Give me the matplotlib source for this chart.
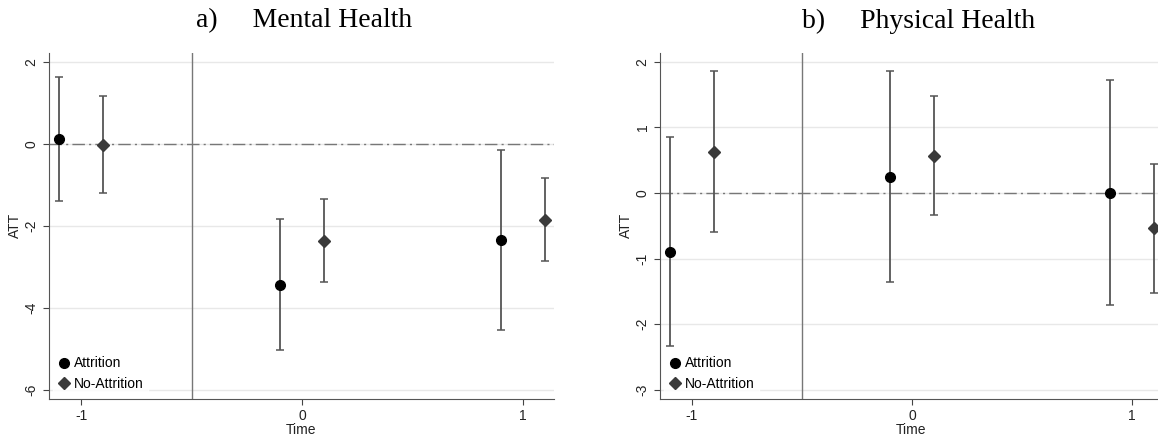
import matplotlib
matplotlib.use("Agg")
import matplotlib.pyplot as plt

# time periods (relative to treatment)
times = [-1, 0, 1]
offset = 0.1

# a) Mental Health
mental_att = [0.11, -3.43, -2.34]
mental_att_lo = [-1.40, -5.03, -4.54]
mental_att_hi = [1.63, -1.84, -0.15]
mental_noatt = [-0.03, -2.37, -1.85]
mental_noatt_lo = [-1.21, -3.37, -2.85]
mental_noatt_hi = [1.16, -1.35, -0.84]

# b) Physical Health
phys_att = [-0.90, 0.25, 0.00]
phys_att_lo = [-2.33, -1.36, -1.71]
phys_att_hi = [0.86, 1.86, 1.72]
phys_noatt = [0.63, 0.57, -0.54]
phys_noatt_lo = [-0.59, -0.33, -1.53]
phys_noatt_hi = [1.86, 1.48, 0.45]

plt.rcParams['font.family'] = ['Liberation Sans', 'DejaVu Sans']

W, H = 1158, 440
fig = plt.figure(figsize=(W / 100, H / 100), dpi=100)


def panel(rect, title, title_x, att, att_lo, att_hi, na, na_lo, na_hi, yticks, ylim):
    ax = fig.add_axes(rect)
    xa = [t - offset for t in times]
    xn = [t + offset for t in times]
    ecol = '#555555'
    for y in yticks:
        ax.axhline(y, color='#e8e8e8', lw=1, zorder=0)
    ax.axhline(0, color='#777777', lw=1, ls=(0, (9, 3, 1.5, 3)), zorder=1)
    ax.axvline(-0.5, color='#777777', lw=1, zorder=1)
    ax.errorbar(xa, att, yerr=[[a - l for a, l in zip(att, att_lo)], [h - a for a, h in zip(att, att_hi)]],
                fmt='o', color='black', ecolor=ecol, elinewidth=1.3, capsize=3, capthick=1.1,
                markersize=7, label='Attrition', zorder=3)
    ax.errorbar(xn, na, yerr=[[a - l for a, l in zip(na, na_lo)], [h - a for a, h in zip(na, na_hi)]],
                fmt='D', color='#3a3a3a', ecolor=ecol, elinewidth=1.3, capsize=3, capthick=1.1,
                markersize=6.5, label='No-Attrition', zorder=3)
    ax.set_xlim(-1.145, 1.14)
    ax.set_ylim(*ylim)
    ax.set_xticks(times)
    ax.set_xticklabels([str(t) for t in times])
    ax.set_yticks(yticks)
    ax.set_yticklabels([str(y) for y in yticks], rotation=90, va='center')
    for s in ['top', 'right']:
        ax.spines[s].set_visible(False)
    for s in ['left', 'bottom']:
        ax.spines[s].set_color('#555555')
    ax.tick_params(colors='#444444', labelcolor='#222222', labelsize=10, length=4)
    ax.set_xlabel('Time', fontsize=10, labelpad=0, color='#222222')
    ax.set_ylabel('ATT', fontsize=10, labelpad=2, color='#222222')
    h, l = ax.get_legend_handles_labels()
    h = [hh[0] for hh in h]
    leg = ax.legend(h, l, loc='lower left', frameon=True, fontsize=10, handletextpad=0.2,
                    handlelength=1.0, borderaxespad=0.3, labelspacing=0.45, borderpad=0.3)
    leg.get_frame().set_facecolor('white')
    leg.get_frame().set_edgecolor('white')
    fig.text(title_x, 1 - 21 / H, title, ha='center', va='center', fontsize=20,
             family=['Liberation Serif', 'DejaVu Serif'])
    return ax


bottom = 1 - 399 / H
height = (399 - 52.7) / H
panel([49 / W, bottom, (554 - 49) / W, height], 'a)     Mental Health', 304 / W,
      mental_att, mental_att_lo, mental_att_hi, mental_noatt, mental_noatt_lo, mental_noatt_hi,
      [-6, -4, -2, 0, 2], (-6.22, 2.22))
panel([660 / W, bottom, (1163 - 660) / W, height], 'b)     Physical Health', 919 / W,
      phys_att, phys_att_lo, phys_att_hi, phys_noatt, phys_noatt_lo, phys_noatt_hi,
      [-3, -2, -1, 0, 1, 2], (-3.14, 2.14))

fig.savefig('out.png', dpi=100)
